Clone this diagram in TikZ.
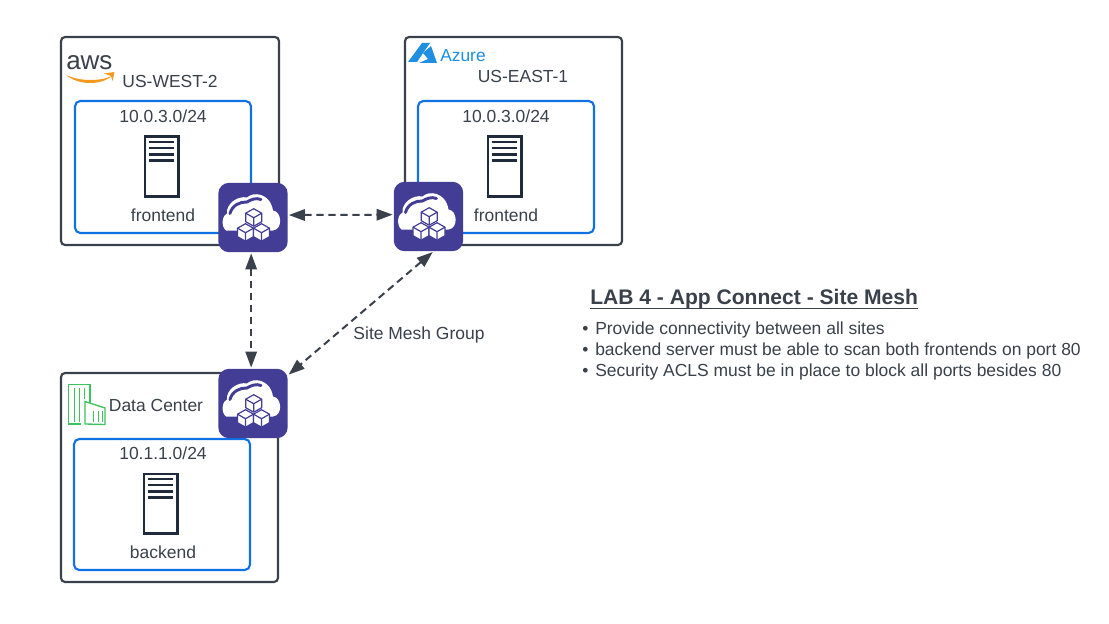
\documentclass[tikz,border=0pt]{standalone}
\usepackage{fontspec}
\setmainfont{Liberation Sans}
\usetikzlibrary{arrows.meta}
\definecolor{inkgrey}{HTML}{3A414A}
\definecolor{serverink}{HTML}{1F2A3A}
\definecolor{netblue}{HTML}{1071E5}
\definecolor{meshpurple}{HTML}{433D96}
\definecolor{awsorange}{HTML}{F39A1E}
\definecolor{azureblue}{HTML}{1E8FE1}
\definecolor{dcgreen}{HTML}{3CC45C}
\tikzset{
  sitebox/.style={draw=inkgrey, line width=1.6pt, rounded corners=3pt, fill=white, minimum width=#1*0.75pt, inner sep=0pt},
  netbox/.style={draw=netblue, line width=1.6pt, rounded corners=4pt, minimum width=#1*0.75pt, inner sep=0pt},
  serverbox/.style={draw=serverink, line width=2pt, fill=white, minimum width=25pt, minimum height=44.5pt, inner sep=0pt},
  meshbox/.style={fill=meshpurple, rounded corners=8pt, minimum width=52pt, minimum height=52pt, inner sep=0pt},
  label/.style={text=inkgrey, font=\fontsize{13.1}{15}\selectfont, inner sep=0pt},
  meshlink/.style={draw=inkgrey, line width=1.5pt, dash pattern=on 5.5pt off 3.5pt, {Triangle[length=12pt,width=8.5pt]}-{Triangle[length=12pt,width=8.5pt]}, shorten >=0.7pt, shorten <=0.7pt},
  cube/.pic={
    \draw[fill=white, draw=meshpurple, line width=0.9pt, line join=round]
      (0,-8.5) -- (8,-4) -- (8,4.5) -- (0,9) -- (-8,4.5) -- (-8,-4) -- cycle;
    \draw[meshpurple, line width=0.9pt] (-8,-4) -- (0,0.5) -- (8,-4) (0,0.5) -- (0,9);
  },
  cloudicon/.pic={
    \fill[white] (-27,13) .. controls (-33,8) and (-30,-3) .. (-26,-4)
      .. controls (-27,-14) and (-15,-22) .. (-6,-20)
      .. controls (0,-26) and (17,-25) .. (20,-7)
      .. controls (29,-6) and (30,12) .. (20,13) -- cycle;
    \draw[meshpurple, line width=2.2pt, line cap=round] (-23,-4) .. controls (-21,-12) and (-13,-16) .. (-6,-15.5)
      .. controls (-2,-18) and (3,-20) .. (8,-18);
    \path (0.7,-0.3) pic {cube};
    \path (-7.5,14.7) pic {cube};
    \path (8.5,14.7) pic {cube};
  }
}
\begin{document}
\begin{tikzpicture}[x=0.75pt,y=-0.75pt]
    \useasboundingbox[fill=white] (0,0) rectangle (1109,624);
    % Site boxes
    \node[sitebox=218, minimum height=156pt] (awsbox) at (170,141) {};
    \node[sitebox=217, minimum height=156pt] (azurebox) at (513.5,141) {};
    \node[sitebox=217, minimum height=156.75pt] (dcbox) at (169.5,477.5) {};
    % Subnet boxes
    \node[netbox=176, minimum height=99pt] (awsnet) at (163,167) {};
    \node[netbox=176, minimum height=99pt] (azurenet) at (506,167) {};
    \node[netbox=176, minimum height=98.25pt] (dcnet) at (162,504.5) {};
    % Servers
    \foreach \name/\cx/\cy in {awsserver/161.5/166.5, azureserver/504.5/166.5, dcserver/160.5/503.5} {
        \node[serverbox] (\name) at (\cx,\cy) {};
        \foreach \off in {24.5,18.5,12,6} {
            \draw[serverink, line width=1.7pt] ([xshift=-9.5pt,yshift=\off*0.75pt]\name.center) -- ([xshift=9.5pt,yshift=\off*0.75pt]\name.center);
        }
    }
    % Labels
    \node[label] (awsname) at (170,81) {US-WEST-2};
    \node[label] (azurename) at (523,76) {US-EAST-1};
    \node[label] (dcname) at (156,405) {Data Center};
    \node[label] (awscidr) at (163,116) {10.0.3.0/24};
    \node[label] (azurecidr) at (506,116) {10.0.3.0/24};
    \node[label] (dccidr) at (163,453) {10.1.1.0/24};
    \node[label] (awshost) at (163,215) {frontend};
    \node[label] (azurehost) at (506,215) {frontend};
    \node[label] (dchost) at (163,552) {backend};
    \node[label] (meshname) at (419,335) {Site Mesh Group};
    % Logos
    \node[text=inkgrey, inner sep=0pt, anchor=base west, font=\fontsize{19.5}{22}\selectfont] (awslogo) at (66,70) {aws};
    \fill[awsorange] (66,75) .. controls (78,85) and (100,86) .. (112,76) .. controls (100,81.5) and (80,81.5) .. cycle;
    \fill[awsorange] (104,73.5) -- (114.5,72) -- (112.5,81) -- (111,76) -- cycle;
    \fill[azureblue] (422,43) -- (430,43) -- (417,62) -- (408,62) -- cycle;
    \fill[azureblue] (431,46) -- (437,63) -- (419,63) -- (428,59) -- (423,53) -- cycle;
    \node[text=azureblue, inner sep=0pt, font=\fontsize{13}{15}\selectfont] (azurelogo) at (463,56) {Azure};
    \draw[dcgreen, line width=1pt] (90,403) -- (90,384.5) -- (68.5,384.5) -- (68.5,424) -- (81,424);
    \draw[dcgreen, line width=1pt] (85,424) -- (85,401.5) -- (105,408) -- (105,424.5) -- cycle;
    \foreach \lx/\ly in {74/422,79/422,84/399} {
        \draw[dcgreen, line width=0.7pt] (\lx,388) -- (\lx,\ly);
    }
    \foreach \lx in {93,98,102} {
        \draw[dcgreen, line width=0.7pt] (\lx,411) -- (\lx,422);
    }
    % Mesh nodes
    \node[meshbox] (awsmesh) at (253,217.5) {};
    \node[meshbox] (azuremesh) at (428.5,216.5) {};
    \node[meshbox] (dcmesh) at (253,403.5) {};
    \path (awsmesh.center) pic {cloudicon};
    \path (azuremesh.center) pic {cloudicon};
    \path (dcmesh.center) pic {cloudicon};
    % Mesh links
    \draw[meshlink] (awsmesh.4) -- (azuremesh.177);
    \draw[meshlink] (awsmesh.-93) -- (dcmesh.93);
    \draw[meshlink] (azuremesh.-82) -- (dcmesh.39);
    % Notes
    \node[label, anchor=base west, font=\bfseries\fontsize{15.8}{18}\selectfont] (labtitle) at (590,304) {LAB 4 - App Connect - Site Mesh};
    \draw[inkgrey, line width=1.2pt] (labtitle.south west) -- (labtitle.south east);
    \node[label, anchor=base west] (notea) at (582,334) {•};
    \node[label, anchor=base west] (noteatext) at (595,334) {Provide connectivity between all sites};
    \node[label, anchor=base west] (noteb) at (582,355) {•};
    \node[label, anchor=base west] (notebtext) at (595,355) {backend server must be able to scan both frontends on port 80};
    \node[label, anchor=base west] (notec) at (582,376) {•};
    \node[label, anchor=base west] (notectext) at (595,376) {Security ACLS must be in place to block all ports besides 80};
\end{tikzpicture}
\end{document}
